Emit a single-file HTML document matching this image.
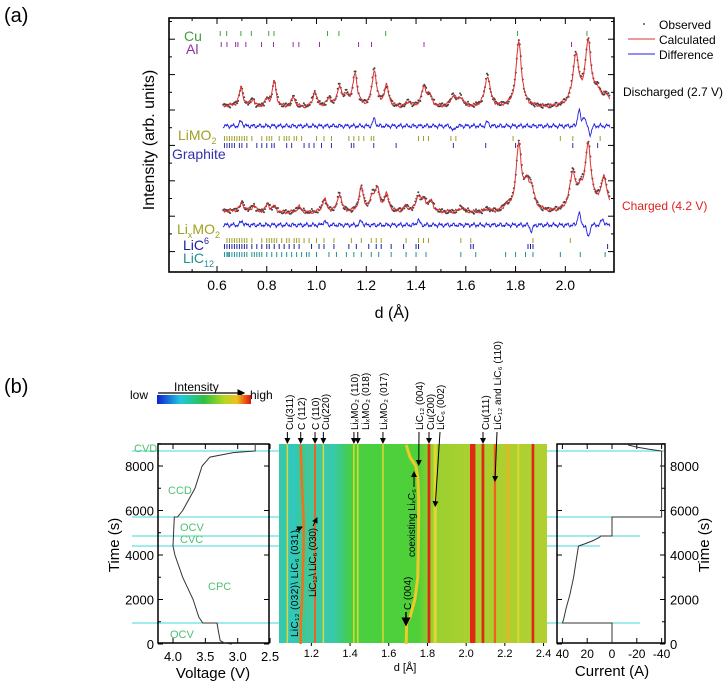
<!DOCTYPE html>
<html><head><meta charset="utf-8"><style>
html,body{margin:0;padding:0;background:#fff;}
svg{display:block;font-family:"Liberation Sans",Arial,sans-serif;}
</style></head><body>
<svg id="fig" width="725" height="683" viewBox="0 0 725 683" xmlns="http://www.w3.org/2000/svg">
<defs>
<linearGradient id="cbar" x1="0" x2="1" y1="0" y2="0">
<stop offset="0" stop-color="#1020d0"/><stop offset="0.25" stop-color="#20c8e0"/><stop offset="0.5" stop-color="#30c040"/><stop offset="0.72" stop-color="#b8d820"/><stop offset="0.85" stop-color="#f0c020"/><stop offset="1" stop-color="#e01010"/>
</linearGradient>
<linearGradient id="hmbg" x1="0" x2="1" y1="0" y2="0">
<stop offset="0" stop-color="#38c8a8"/><stop offset="0.06" stop-color="#30c8c0"/><stop offset="0.08" stop-color="#40c890"/><stop offset="0.12" stop-color="#40c8a0"/><stop offset="0.2" stop-color="#38c8b0"/><stop offset="0.25" stop-color="#40cc60"/><stop offset="0.27" stop-color="#48d040"/><stop offset="0.52" stop-color="#50d038"/><stop offset="0.57" stop-color="#98d030"/><stop offset="0.7" stop-color="#a8d030"/><stop offset="1" stop-color="#b0d030"/>
</linearGradient>
<marker id="ah" markerWidth="6" markerHeight="6" refX="5" refY="3" orient="auto"><path d="M0,0 L6,3 L0,6 z" fill="#000"/></marker>
</defs>
<text x="4" y="22" font-size="20">(a)</text>
<text x="4" y="393" font-size="20">(b)</text>
<g id="pa"></g>
<g id="pb"></g>
</svg>
<script>
// ===== Panel (a) data =====
const cuTicks=[0.613,0.639,0.696,0.738,0.808,0.829,1.044,1.090,1.278,1.808,2.087];
const alTicks=[0.617,0.640,0.675,0.684,0.716,0.779,0.827,0.906,0.929,1.012,1.169,1.221,1.432,2.025];
const limo2Ticks=[0.63,0.64,0.65,0.66,0.67,0.68,0.69,0.70,0.71,0.72,0.74,0.78,0.80,0.81,0.82,0.85,0.87,0.88,0.89,0.91,0.92,0.94,1.00,1.03,1.06,1.13,1.15,1.17,1.19,1.22,1.23,1.41,1.43,1.45,1.54,1.56,1.79,1.98,2.03,2.14];
const graphiteTicks=[0.63,0.64,0.65,0.66,0.67,0.69,0.70,0.72,0.76,0.78,0.80,0.82,0.83,0.88,0.90,0.95,0.97,0.99,1.02,1.06,1.14,1.15,1.23,1.32,1.55,1.68,1.80,2.03,2.13];
const lixmo2Ticks=[0.64,0.65,0.66,0.67,0.68,0.69,0.70,0.71,0.72,0.74,0.78,0.80,0.81,0.82,0.83,0.84,0.86,0.88,0.89,0.91,0.92,0.93,0.95,0.97,1.00,1.03,1.07,1.14,1.18,1.22,1.24,1.26,1.36,1.41,1.43,1.45,1.58,1.62,1.87,2.02];
const lic6Ticks=[0.63,0.64,0.65,0.66,0.67,0.68,0.69,0.70,0.71,0.72,0.74,0.76,0.78,0.80,0.81,0.83,0.85,0.87,0.89,0.91,0.93,0.98,1.01,1.03,1.07,1.13,1.16,1.21,1.24,1.26,1.30,1.35,1.40,1.41,1.62,1.63,1.85,1.86,1.87,2.17];
const lic12Ticks=[0.63,0.64,0.645,0.65,0.66,0.67,0.68,0.69,0.70,0.71,0.72,0.74,0.75,0.76,0.77,0.78,0.80,0.82,0.84,0.86,0.88,0.90,0.92,0.94,0.96,0.97,1.00,1.05,1.08,1.12,1.15,1.18,1.22,1.25,1.30,1.36,1.40,1.44,1.58,1.64,1.76,1.80,1.84,1.87,1.98,2.06,2.16];
const disPeakPos=[0.697,0.745,0.80,0.830,0.907,0.993,1.05,1.092,1.12,1.155,1.232,1.281,1.37,1.432,1.455,1.550,1.58,1.687,1.813,2.042,2.092,2.13,2.165];
const disPeakH=[18,6,7,26,10,15,8,20,10,33,36,20,5,19,10,11,9,31,65,48,60,10,6];
const chPeakPos=[0.70,0.75,0.803,0.83,0.929,1.032,1.092,1.18,1.225,1.244,1.281,1.358,1.409,1.432,1.46,1.584,1.687,1.764,1.813,1.845,1.864,2.030,2.062,2.092,2.155];
const chPeakH=[8,6,8,6,6,13,18,24,13,21,16,5,15,10,10,5,3,5,65,20,19,35,13,61,28];
const disDiffPos=[0.697,1.232,1.55,1.687,2.055,2.075,2.10];
const disDiffA=[-5,-7,5,-4,-16,-10,8];
const chDiffPos=[0.70,1.032,1.18,1.409,1.864,2.055,2.092,2.15];
const chDiffA=[-4,-4,-4,-5,6,-12,12,-6];
const xTicksA=[0.6,0.8,1.0,1.2,1.4,1.6,1.8,2.0];

// ===== Panel (b) data =====
const timeTicks=[0,2000,4000,6000,8000];
const voltTicks=[4.0,3.5,3.0,2.5];
const dTicksB=[1.2,1.4,1.6,1.8,2.0,2.2,2.4];
const currTicks=[40,20,0,-20,-40];
const stepTimes=[944,4404,4854,5708,8674];
const voltT=[0,40,150,600,944,944,1200,2000,3000,4000,4404,5708,5708,6000,7000,8000,8400,8600,8674,8944];
const voltV=[3.09,3.2,3.27,3.3,3.32,3.54,3.6,3.69,3.85,3.97,4.0,3.98,3.93,3.85,3.66,3.55,3.43,3.07,2.73,2.73];
const currT=[0,944,944,1100,1600,2200,3000,3700,4404,4500,4650,4800,4854,4854,5708,5708,8674,8750,8850,8944];
const currI=[0,0,40,39,37,34,31,29,27,22,15,10,9,0,0,-40,-40,-30,-20,-13];
const stripeD=[1.076,1.219,1.262,1.42,1.44,1.57,1.808,1.84,2.034,2.087,2.149,2.216,2.27,2.345];
const stripeI=[0.75,0.88,0.74,0.76,0.76,0.74,1.0,0.7,0.96,1.0,0.88,0.84,0.72,0.94];
const stripeW=[0.006,0.01,0.006,0.008,0.008,0.008,0.014,0.016,0.028,0.014,0.012,0.012,0.01,0.014];
const c004T=[0,944,1200,2000,3000,5700,6500,7500,8000,8400,8944];
const c004D=[1.69,1.692,1.71,1.735,1.75,1.755,1.755,1.75,1.74,1.71,1.69];
const c112T=[0,944,2000,4404,5708,7000,8944];
const c112D=[1.145,1.145,1.152,1.16,1.16,1.152,1.145];

const NS="http://www.w3.org/2000/svg";
function mk(parent,tag,attrs,txt){const e=document.createElementNS(NS,tag);for(const k in attrs)e.setAttribute(k,attrs[k]);if(txt!==undefined)e.textContent=txt;parent.appendChild(e);return e;}

// ---------- Panel (a) ----------
const pa=document.getElementById('pa');
const A={l:169,r:614,t:18,b:272};
const xA=d=>217+(d-0.6)*248.8;
function profile(pos,h,x){let s=0;for(let i=0;i<pos.length;i++){const w=0.006+0.004*pos[i];const u=(x-pos[i])/w;s+=h[i]/(1+u*u);}return s;}
function diffProf(pos,a,x){let s=0;for(let i=0;i<pos.length;i++){const u=(x-pos[i])/0.008;s+=a[i]*Math.exp(-u*u);}return s;}
function ripple(x){return 1.4*Math.sin(x*180)+0.9*Math.sin(x*410+1)+0.6*Math.sin(x*970);}
let el;
el=mk(pa,'rect',{x:A.l,y:A.t,width:A.r-A.l,height:A.b-A.t,fill:'none',stroke:'#000','stroke-width':1.6});

for(let i=0;i<14;i++){const y=21.5+i*17.7;const len=i%2===1?6:3;mk(pa,'line',{x1:A.l,x2:A.l+len,y1:y,y2:y,stroke:'#000','stroke-width':1});mk(pa,'line',{x1:A.r,x2:A.r-len,y1:y,y2:y,stroke:'#000','stroke-width':1});}
for(let d=0.5;d<=2.15;d+=0.1){const x=xA(d);if(x<A.l||x>A.r)continue;const maj=Math.round(d*10)%2===0;const len=maj?6:3;mk(pa,'line',{x1:x,x2:x,y1:A.b,y2:A.b-len,stroke:'#000'});mk(pa,'line',{x1:x,x2:x,y1:A.t,y2:A.t+len,stroke:'#000'});}
xTicksA.forEach(d=>{el=mk(pa,'text',{x:xA(d),y:290,'font-size':14,'text-anchor':'middle'},d.toFixed(1));});
el=mk(pa,'text',{x:392,y:318,'font-size':16,'text-anchor':'middle'},'d (Å)');
el=mk(pa,'text',{x:0,y:0,'font-size':16,'text-anchor':'middle',transform:'translate(154,140) rotate(-90)'},'Intensity (arb. units)');
function tickRow(arr,y1,y2,color,name){const g=mk(pa,'g',{});arr.forEach(d=>{const x=xA(d);mk(g,'line',{x1:x,x2:x,y1:y1,y2:y2,stroke:color,'stroke-width':1});});}
tickRow(cuTicks,31,36,'#40a040','cu-reflection-ticks');
tickRow(alTicks,42,47,'#9030a0','al-reflection-ticks');
tickRow(limo2Ticks,136,141,'#a0a020','limo2-reflection-ticks');
tickRow(graphiteTicks,143,148,'#3030b0','graphite-reflection-ticks');
tickRow(lixmo2Ticks,238,243,'#a0a020','lixmo2-reflection-ticks');
tickRow(lic6Ticks,244,249,'#2020a0','lic6-reflection-ticks');
tickRow(lic12Ticks,252,257,'#209090','lic12-reflection-ticks');
function lab(x,y,c,name){el=mk(pa,'text',{x:x,y:y,'font-size':14,fill:c});return el;}
el=lab(184,41,'#40a040','cu-label');el.textContent='Cu';
el=lab(186,54,'#9030a0','al-label');el.textContent='Al';
el=lab(178,140,'#a0a020','limo2-label');el.innerHTML='LiMO<tspan font-size="9" dy="4">2</tspan>';
el=lab(172,159,'#3030b0','graphite-label');el.textContent='Graphite';
el=lab(177,234,'#a0a020','lixmo2-label');el.innerHTML='Li<tspan font-size="9" dy="4">x</tspan><tspan dy="-4">MO</tspan><tspan font-size="9" dy="4">2</tspan>';
el=lab(183,250,'#2020a0','lic6-label');el.innerHTML='LiC<tspan font-size="9" dy="-6">6</tspan>';
el=lab(183,263,'#209090','lic12-label');el.innerHTML='LiC<tspan font-size="9" dy="4">12</tspan>';
function pattern(pos,h,base,dpos,da,dbase,name){
  let calc='',dif='';
  for(let d=0.625;d<=2.18;d+=0.0015){const x=xA(d);const bg=base-(d>1.95?(d-1.95)*20:0)-(d<0.75?2:0);const y=bg-profile(pos,h,d)+ripple(d)*0.8;calc+=(calc?'L':'M')+x.toFixed(1)+','+y.toFixed(1);
    const yd=dbase+diffProf(dpos,da,d)+ripple(d*1.3)*0.9;dif+=(dif?'L':'M')+x.toFixed(1)+','+yd.toFixed(1);}
  const g=mk(pa,'g',{});
  for(let d=0.625;d<=2.18;d+=0.004){const x=xA(d);const bg=base-(d>1.95?(d-1.95)*20:0)-(d<0.75?2:0);const y=bg-profile(pos,h,d)*1.04+ripple(d+0.3);mk(g,'circle',{cx:x.toFixed(1),cy:y.toFixed(1),r:1,fill:'#444'});}
  el=mk(g,'path',{d:calc,fill:'none',stroke:'#e03030','stroke-width':1});
  el=mk(g,'path',{d:dif,fill:'none',stroke:'#2020e0','stroke-width':0.9});
}
pattern(disPeakPos,disPeakH,108,disDiffPos,disDiffA,126,'discharged-pattern');
pattern(chPeakPos,chPeakH,213,chDiffPos,chDiffA,225,'charged-pattern');
const lg=mk(pa,'g',{});
mk(lg,'circle',{cx:644,cy:24,r:1,fill:'#555'});
mk(lg,'text',{x:659,y:29,'font-size':12},'Observed');
mk(lg,'line',{x1:628,x2:655,y1:39,y2:39,stroke:'#e03030'});
mk(lg,'text',{x:659,y:44,'font-size':12},'Calculated');
mk(lg,'line',{x1:628,x2:655,y1:54,y2:54,stroke:'#2020e0'});
mk(lg,'text',{x:659,y:59,'font-size':12},'Difference');
el=mk(pa,'text',{x:623,y:96,'font-size':12},'Discharged (2.7 V)');
el=mk(pa,'text',{x:622,y:210,'font-size':12,fill:'#e02020'},'Charged (4.2 V)');

// ---------- Panel (b) ----------
const pb=document.getElementById('pb');
const yT=t=>644-t*(178/8000);
const xV=v=>173+(4.0-v)*64.7;
const xD=d=>429+(d-1.808)*193.5;
const xI=i=>612-i*1.24;
const TOP=444,BOT=643;
const HL=279,HR=547;
el=mk(pb,'text',{x:130,y:399,'font-size':12},'low');
el=mk(pb,'text',{x:174,y:391,'font-size':12},'Intensity');
mk(pb,'line',{x1:158,x2:244,y1:393,y2:393,stroke:'#000','stroke-width':1.3,'marker-end':'url(#ah)'});
el=mk(pb,'text',{x:250,y:399,'font-size':12},'high');
el=mk(pb,'rect',{x:157,y:395,width:94,height:9,fill:'url(#cbar)'});
const stepEnd=[640,600,640,620,665];
stepTimes.forEach((t,i)=>{el=mk(pb,'line',{x1:132,x2:stepEnd[i],y1:yT(t),y2:yT(t),stroke:'#40d8d8','stroke-width':1});});
// left panel
el=mk(pb,'rect',{x:158,y:TOP,width:111,height:BOT-TOP,fill:'none',stroke:'#000','stroke-width':1.5});
timeTicks.forEach(t=>{const y=yT(t);mk(pb,'line',{x1:158,x2:163,y1:y,y2:y,stroke:'#000'});mk(pb,'line',{x1:269,x2:264,y1:y,y2:y,stroke:'#000'});mk(pb,'line',{x1:158,x2:161,y1:yT(t+1000),y2:yT(t+1000),stroke:'#000'});
 el=mk(pb,'text',{x:154,y:y+5,'font-size':13,'text-anchor':'end'},String(t));});
voltTicks.forEach(v=>{const x=xV(v);mk(pb,'line',{x1:x,x2:x,y1:BOT,y2:BOT-5,stroke:'#000'});mk(pb,'line',{x1:x,x2:x,y1:TOP,y2:TOP+5,stroke:'#000'});
 el=mk(pb,'text',{x:x,y:661,'font-size':13,'text-anchor':'middle'},v.toFixed(1));});
el=mk(pb,'text',{x:213,y:678,'font-size':15,'text-anchor':'middle'},'Voltage (V)');
el=mk(pb,'text',{x:0,y:0,'font-size':15,'text-anchor':'middle',transform:'translate(119,545) rotate(-90)'},'Time (s)');
let pv='';voltT.forEach((t,i)=>{pv+=(i?'L':'M')+xV(voltV[i]).toFixed(1)+','+yT(t).toFixed(1);});
el=mk(pb,'path',{d:pv,fill:'none',stroke:'#333','stroke-width':1});
const stepLabels=[['CVD',134,452],['CCD',168,494],['OCV',180,531],['CVC',180,543],['CPC',208,590],['OCV',170,638]];
stepLabels.forEach(s=>{el=mk(pb,'text',{x:s[1],y:s[2],'font-size':11,fill:'#50c070'},s[0]);});
// heatmap
const hm=mk(pb,'g',{});
mk(hm,'rect',{x:HL,y:TOP,width:HR-HL,height:BOT-TOP,fill:'url(#hmbg)'});
function icol(v){return v>0.93?'#e02818':v>0.85?'#f06020':v>0.76?'#f0b020':'#e0d830';}
stripeD.forEach((d,i)=>{const w=Math.max(1.5,stripeW[i]*193.5);el=mk(hm,'rect',{x:(xD(d)-w/2).toFixed(1),y:TOP,width:w.toFixed(1),height:BOT-TOP,fill:icol(stripeI[i])});});
function curveLine(T,D,color,w,name){let p='';T.forEach((t,i)=>{p+=(i?'L':'M')+xD(D[i]).toFixed(1)+','+yT(t).toFixed(1);});el=mk(hm,'path',{d:p,fill:'none',stroke:color,'stroke-width':w});}
curveLine(c004T,c004D,'#f0c828',3,'c004-peak-track');
curveLine(c112T,c112D,'#f07020',2.5,'c112-peak-track');
dTicksB.forEach(d=>{const x=xD(d);mk(pb,'line',{x1:x,x2:x,y1:BOT,y2:BOT+3,stroke:'#000'});el=mk(pb,'text',{x:x,y:657,'font-size':11,'text-anchor':'middle'},d.toFixed(1));});
el=mk(pb,'text',{x:405,y:671,'font-size':11,'text-anchor':'middle'},'d [Å]');
// top peak labels: [text, arrow d, label column x, arrow target time or null]
const pkLabels=[['Cu(311)',1.076,289,null],['C (112)',1.145,301,null],['C (110)',1.219,315,null],['Cu(220)',1.262,325,null],['LiₓMO₂ (110)',1.42,354,null],['LiₓMO₂ (018)',1.44,365,null],['LiₓMO₂ (017)',1.57,383,null],['LiC₁₂ (004)',1.755,419,8000],['Cu(200)',1.808,430,null],['LiC₆ (002)',1.84,440,6150],['Cu(111)',2.087,485,null],['LiC₁₂ and LiC₆ (110)',2.149,497,7280]];
pkLabels.forEach(p=>{const tx=p[2];el=mk(pb,'text',{x:0,y:0,'font-size':10,transform:'translate('+(tx+4)+',430) rotate(-90)'},p[0]);
 const ax=xD(p[1]);const ty=p[3]===null?TOP:yT(p[3]);
 el=mk(pb,'line',{x1:p[3]===null?ax:tx,x2:ax,y1:432,y2:ty-1,stroke:'#000','stroke-width':1,'marker-end':'url(#ah)'});});
// inner annotations
el=mk(pb,'text',{x:0,y:0,'font-size':10,transform:'translate(298,637) rotate(-90)',textLength:107},'LiC₁₂ (032)\\ LiC₆ (031)');
mk(pb,'line',{x1:296,x2:302,y1:530,y2:527,stroke:'#000','marker-end':'url(#ah)'});
el=mk(pb,'text',{x:0,y:0,'font-size':10,transform:'translate(316,597) rotate(-90)',textLength:69},'LiC₁₂\\ LiC₆ (030)');
mk(pb,'line',{x1:313,x2:317,y1:526,y2:518,stroke:'#000','marker-end':'url(#ah)'});
el=mk(pb,'text',{x:0,y:0,'font-size':10,transform:'translate(415,557) rotate(-90)',textLength:68},'coexisting LiₓC₆');
mk(pb,'line',{x1:414,x2:414,y1:487,y2:472,stroke:'#000','marker-end':'url(#ah)'});
el=mk(pb,'text',{x:0,y:0,'font-size':10,transform:'translate(411,610) rotate(-90)'},'C (004)');
mk(pb,'line',{x1:406,x2:406,y1:612,y2:625,stroke:'#000','stroke-width':1.5,'marker-end':'url(#ah)'});
// right panel
el=mk(pb,'rect',{x:557,y:TOP,width:108,height:BOT-TOP,fill:'none',stroke:'#000','stroke-width':1.5});
timeTicks.forEach(t=>{const y=yT(t);mk(pb,'line',{x1:665,x2:660,y1:y,y2:y,stroke:'#000'});mk(pb,'line',{x1:557,x2:562,y1:y,y2:y,stroke:'#000'});mk(pb,'line',{x1:665,x2:662,y1:yT(t+1000),y2:yT(t+1000),stroke:'#000'});
 el=mk(pb,'text',{x:670,y:y+5,'font-size':13},String(t));});
currTicks.forEach(c=>{const x=xI(c);mk(pb,'line',{x1:x,x2:x,y1:BOT,y2:BOT-5,stroke:'#000'});mk(pb,'line',{x1:x,x2:x,y1:TOP,y2:TOP+5,stroke:'#000'});
 el=mk(pb,'text',{x:x,y:658,'font-size':12,'text-anchor':'middle'},String(c));});
el=mk(pb,'text',{x:612,y:676,'font-size':15,'text-anchor':'middle'},'Current (A)');
el=mk(pb,'text',{x:0,y:0,'font-size':15,'text-anchor':'middle',transform:'translate(709,545) rotate(-90)'},'Time (s)');
let pc='';currT.forEach((t,i)=>{pc+=(i?'L':'M')+xI(currI[i]).toFixed(1)+','+yT(t).toFixed(1);});
el=mk(pb,'path',{d:pc,fill:'none',stroke:'#333','stroke-width':1});
</script>
</body></html>
